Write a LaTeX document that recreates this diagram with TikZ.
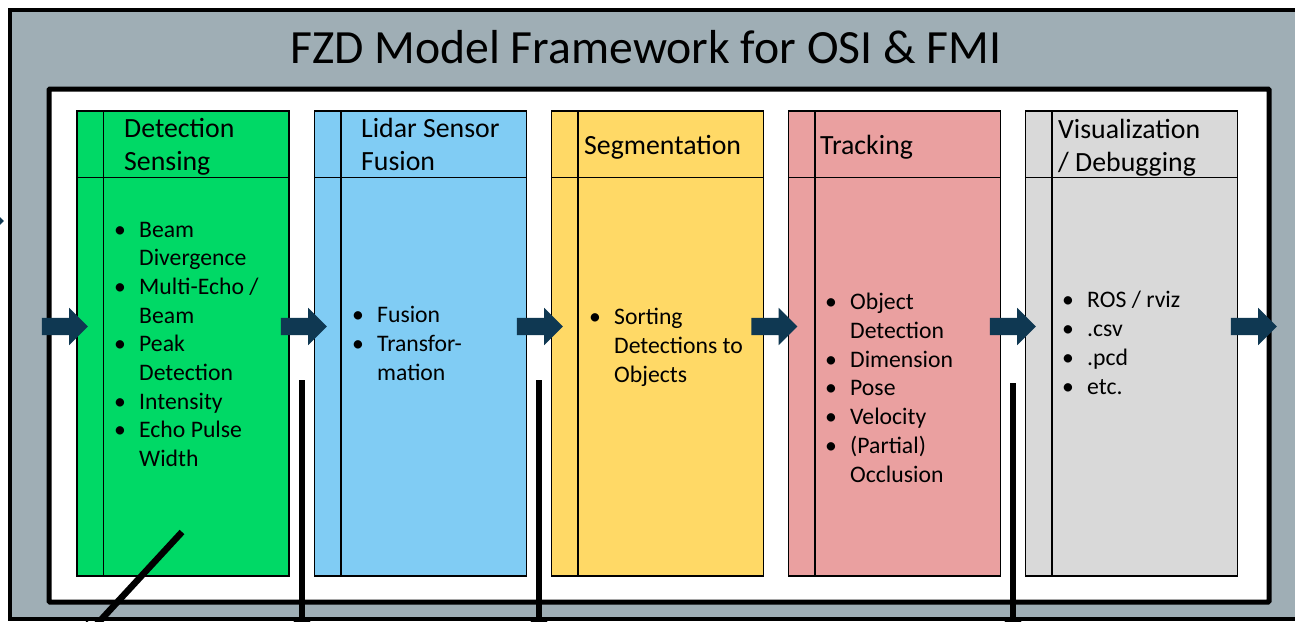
\documentclass[tikz,border=0pt]{standalone}
\usepackage{fontspec}
\setmainfont{Carlito}
\usetikzlibrary{shapes.arrows,arrows.meta}
\definecolor{framegray}{RGB}{159,174,181}
\definecolor{detgreen}{RGB}{0,217,102}
\definecolor{fusblue}{RGB}{128,204,244}
\definecolor{segyellow}{RGB}{255,217,102}
\definecolor{trkred}{RGB}{234,160,160}
\definecolor{visgray}{RGB}{217,217,217}
\definecolor{flownavy}{RGB}{15,56,82}
% bullet hung to the left of the item text
\newcommand{\itm}[1]{\llap{\makebox[25pt][l]{•}}#1}
\begin{document}
\begin{tikzpicture}[x=1pt,y=-1pt,
  stagebox/.style={draw=black,line width=1.5pt,minimum width=212pt,minimum height=465pt,inner sep=0pt},
  headtext/.style={anchor=base west,align=left,inner sep=0pt,font=\fontsize{27.8}{33}\selectfont},
  listtext/.style={anchor=base west,align=left,inner sep=0pt,font=\fontsize{23.7}{28.7}\selectfont},
  flowarrow/.style={single arrow,fill=flownavy,draw=none,inner sep=8.5pt,single arrow head extend=10pt,minimum height=46pt},
  feed/.style={line width=6.5pt,-{Triangle[width=22pt,length=12pt]}}
]
\useasboundingbox (0,0) rectangle (1295,621);
\clip (0,0) rectangle (1295,621);

% outer framework frame and inner model area
\draw[line width=4.5pt,fill=framegray] (10,10) rectangle (1320,619);
\node[anchor=base,inner sep=0pt,font=\fontsize{47.7}{56}\selectfont] (title) at (646,63) {FZD Model Framework for OSI \& FMI};
\draw[line width=5pt,fill=white,rounded corners=1pt] (49,89) rectangle (1269,602);

% processing stages
\node[stagebox,fill=detgreen]  (det) at (183,343.5) {};
\node[stagebox,fill=fusblue]   (fus) at (420.5,343.5) {};
\node[stagebox,fill=segyellow] (seg) at (657.5,343.5) {};
\node[stagebox,fill=trkred]    (trk) at (894.5,343.5) {};
\node[stagebox,fill=visgray]   (vis) at (1131.5,343.5) {};
\foreach \s in {det,fus,seg,trk,vis}{
  \draw[line width=1.5pt] ([xshift=27pt]\s.north west) -- ([xshift=27pt]\s.south west);
  \draw[line width=1.5pt] ([yshift=-67pt]\s.north west) -- ([yshift=-67pt]\s.north east);
}

% stage titles (anchored at the baseline of their last line)
\node[headtext] (detT) at (124,170) {Detection\\Sensing};
\node[headtext] (fusT) at (361,170) {Lidar Sensor\\Fusion};
\node[headtext] (segT) at (584,154) {Segmentation};
\node[headtext] (trkT) at (820,154) {Tracking};
\node[headtext] (visT) at (1058,171) {Visualization\\/ Debugging};

% stage contents (anchored at the baseline of their last line)
\node[listtext] (detL) at (139,466.6) {\itm{Beam}\\Divergence\\\itm{Multi-Echo /}\\Beam\\\itm{Peak}\\Detection\\\itm{Intensity}\\\itm{Echo Pulse}\\Width};
\node[listtext] (fusL) at (377,380) {\itm{Fusion}\\\itm{Transfor-}\\mation};
\node[listtext] (segL) at (614,382) {\itm{Sorting}\\Detections to\\Objects};
\node[listtext] (trkL) at (850,482) {\itm{Object}\\Detection\\\itm{Dimension}\\\itm{Pose}\\\itm{Velocity}\\\itm{(Partial)}\\Occlusion};
\node[listtext] (visL) at (1087,394) {\itm{ROS / rviz}\\\itm{.csv}\\\itm{.pcd}\\\itm{etc.}};

% data flow between stages
\node[flowarrow] (in0) at (-23.5,221) {};
\node[flowarrow] (a1) at (60.5,326.5) {};
\node[flowarrow] (a2) at (299.5,326.5) {};
\node[flowarrow] (a3) at (535.5,326.5) {};
\node[flowarrow] (a4) at (770,326.5) {};
\node[flowarrow] (a5) at (1008.5,326.5) {};
\node[flowarrow] (a6) at (1249.5,326.5) {};

% outputs leaving the framework
\coordinate (o1s) at (302,380);  \coordinate (o1e) at (302,630);
\coordinate (o2s) at (539,380);  \coordinate (o2e) at (539,630);
\coordinate (o3s) at (1013,383); \coordinate (o3e) at (1013,630);
\coordinate (d1s) at (182,532);  \coordinate (d1e) at (86,636);
\draw[feed] (o1s) -- (o1e);
\draw[feed] (o2s) -- (o2e);
\draw[feed] (o3s) -- (o3e);
\draw[feed] (d1s) -- (d1e);
\end{tikzpicture}
\end{document}
